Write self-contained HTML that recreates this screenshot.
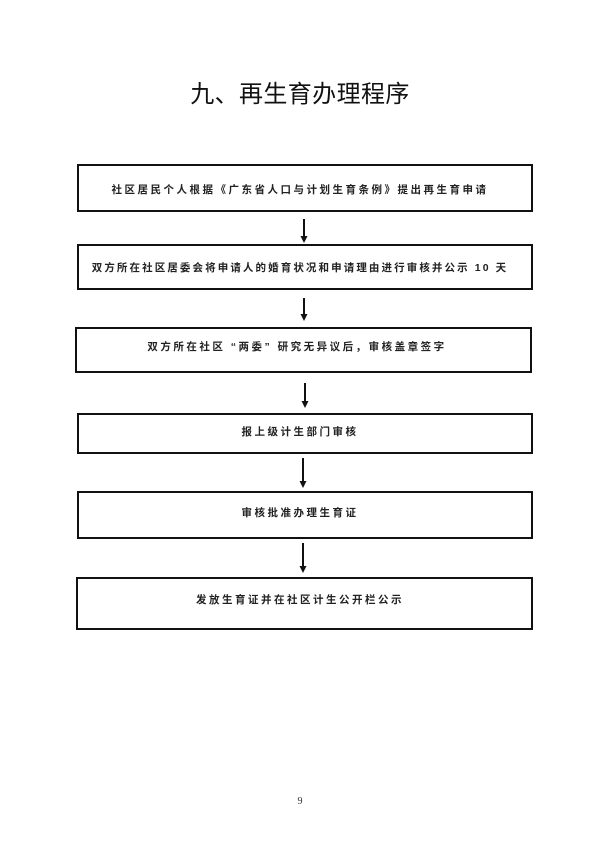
<!DOCTYPE html>
<html><head><meta charset="utf-8"><style>
html,body{margin:0;padding:0;background:#fff;}
body{width:600px;height:848px;position:relative;overflow:hidden;font-family:"Liberation Sans","Noto Sans CJK SC",sans-serif;color:#111;}
.t{position:absolute;left:0;width:600px;text-align:center;top:80px;font-size:24px;line-height:30px;letter-spacing:0.4px;}
.b{position:absolute;border:2px solid #111;box-sizing:border-box;}
.l{position:absolute;left:0;width:600px;text-align:center;font-size:10.5px;line-height:12px;letter-spacing:2.5px;font-weight:bold;color:#222;}
.p{position:absolute;left:0;width:600px;text-align:center;top:796px;font-family:"Liberation Serif",serif;font-size:10px;color:#333;}
svg{position:absolute;left:0;top:0;}
</style></head><body>
<div class="t">九、再生育办理程序</div>
<div class="b" style="left:77px;top:164px;width:456px;height:48px"></div>
<div class="b" style="left:77px;top:244px;width:456px;height:46px"></div>
<div class="b" style="left:75px;top:327px;width:457px;height:46px"></div>
<div class="b" style="left:77px;top:413px;width:456px;height:41px"></div>
<div class="b" style="left:77px;top:491px;width:456px;height:48px"></div>
<div class="b" style="left:76px;top:577px;width:457px;height:53px"></div>
<div class="l" style="top:184px">社区居民个人根据《广东省人口与计划生育条例》提出再生育申请</div>
<div class="l" style="top:262px;letter-spacing:2.1px">双方所在社区居委会将申请人的婚育状况和申请理由进行审核并公示 10 天</div>
<div class="l" style="top:341px;left:-3px">双方所在社区 “两委” 研究无异议后，审核盖章签字</div>
<div class="l" style="top:426px">报上级计生部门审核</div>
<div class="l" style="top:507px">审核批准办理生育证</div>
<div class="l" style="top:594px">发放生育证并在社区计生公开栏公示</div>
<svg width="600" height="848">
<g stroke="#111" stroke-width="2" fill="#111">
<line x1="304" y1="219" x2="304" y2="237"/><polygon points="300.5,236 307.5,236 304,243" stroke="none"/>
<line x1="304" y1="298" x2="304" y2="315"/><polygon points="300.5,314 307.5,314 304,321" stroke="none"/>
<line x1="305" y1="383" x2="305" y2="402"/><polygon points="301.5,401 308.5,401 305,408" stroke="none"/>
<line x1="303" y1="458" x2="303" y2="482"/><polygon points="299.5,481 306.5,481 303,488" stroke="none"/>
<line x1="303" y1="543" x2="303" y2="567"/><polygon points="299.5,566 306.5,566 303,573" stroke="none"/>
</g></svg>
<div class="p">9</div>
</body></html>
